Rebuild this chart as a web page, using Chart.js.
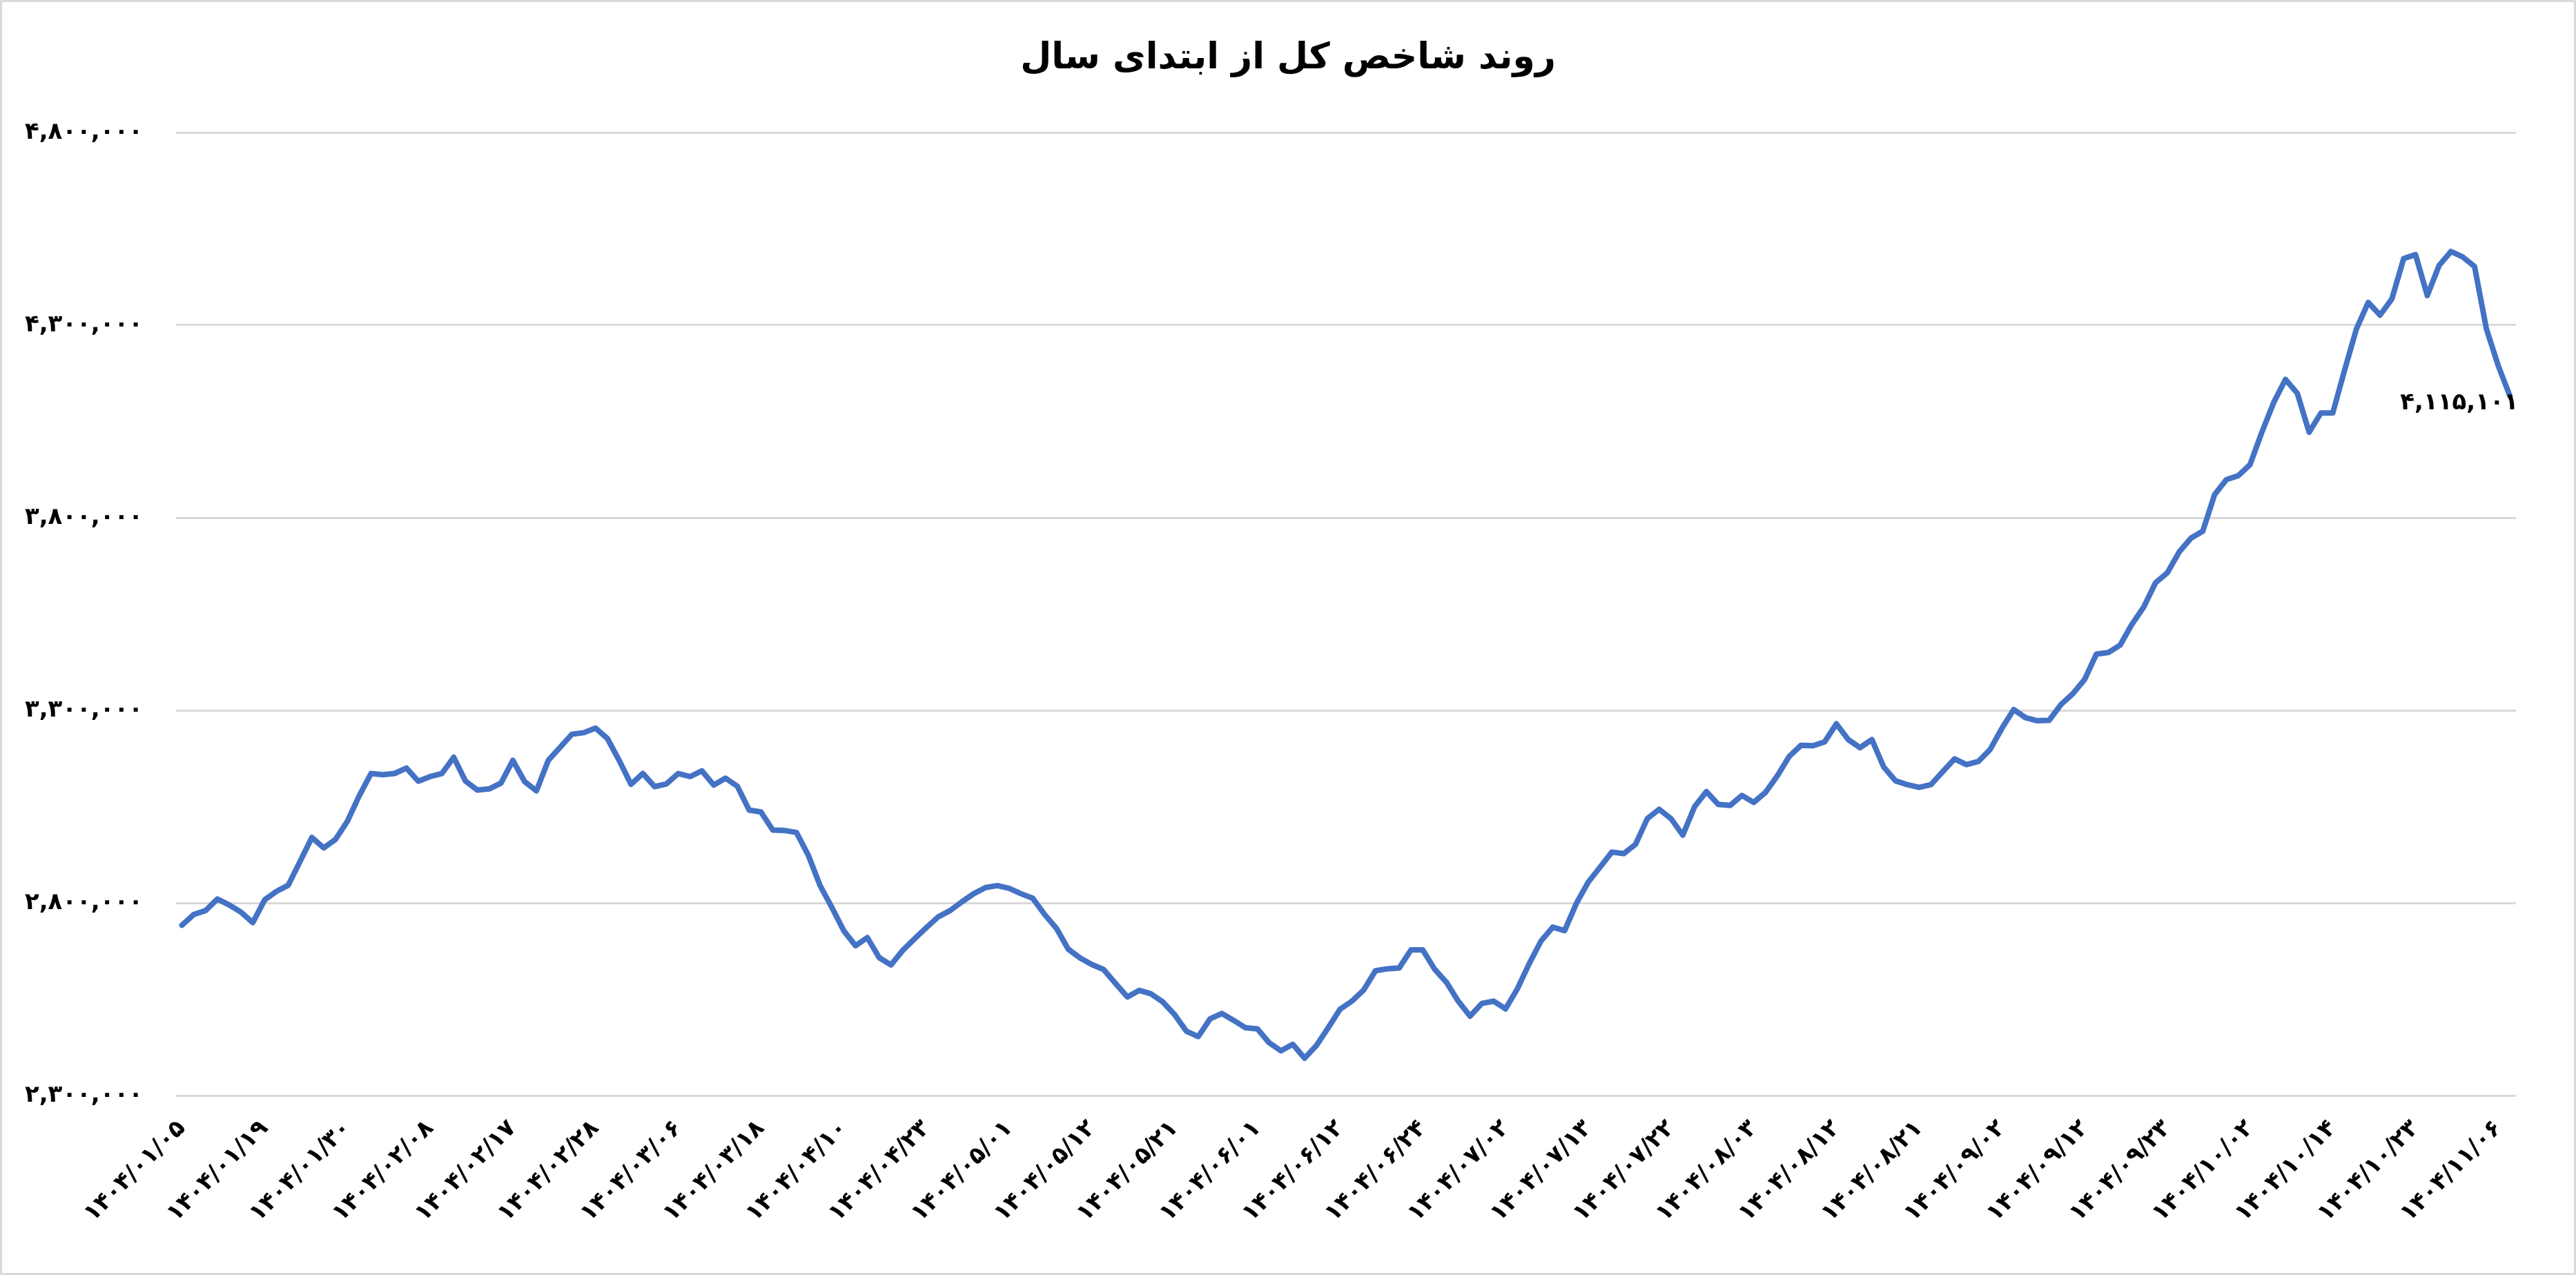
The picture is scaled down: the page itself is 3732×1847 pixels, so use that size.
<!DOCTYPE html>
<html><head><meta charset="utf-8">
<script src="https://cdn.jsdelivr.net/npm/chart.js@4.4.1/dist/chart.umd.min.js"></script>
<style>
html,body{margin:0;padding:0;background:#fff;}
#wrap{width:3732px;height:1847px;box-sizing:border-box;border:3px solid #d9d9d9;background:#fff;}
canvas{display:block;}
</style></head><body>
<div id="wrap"><canvas id="c" width="3726" height="1841"></canvas></div>
<script>
const chartTitle = 'روند شاخص کل از ابتدای سال';
const xTickLabels = ['1404/01/05','1404/01/19','1404/01/30','1404/02/08','1404/02/17','1404/02/28','1404/03/06','1404/03/18','1404/04/10','1404/04/23','1404/05/01','1404/05/12','1404/05/21','1404/06/01','1404/06/12','1404/06/24','1404/07/02','1404/07/13','1404/07/22','1404/08/03','1404/08/12','1404/08/21','1404/09/02','1404/09/12','1404/09/23','1404/10/02','1404/10/14','1404/10/23','1404/11/06'];
const tickEvery = 7;
const indexValues = [
2742000,2770000,2780000,2810000,2795000,2776000,2749000,2808000,2830000,2846000,
2908000,2970000,2943000,2965000,3012000,3078000,3136000,3133000,3136000,3150000,
3116000,3128000,3136000,3178000,3116000,3093000,3096000,3111000,3170000,3115000,
3091000,3170000,3204000,3238000,3242000,3254000,3227000,3170000,3108000,3136000,
3102000,3109000,3136000,3128000,3143000,3106000,3124000,3103000,3041000,3036000,
2989000,2988000,2983000,2924000,2845000,2788000,2728000,2689000,2710000,2658000,
2639000,2677000,2707000,2736000,2764000,2780000,2803000,2824000,2840000,2845000,
2838000,2824000,2812000,2770000,2734000,2680000,2657000,2640000,2627000,2591000,
2556000,2573000,2564000,2543000,2510000,2467000,2453000,2499000,2513000,2495000,
2476000,2473000,2437000,2416000,2433000,2397000,2430000,2476000,2524000,2545000,
2574000,2624000,2629000,2631000,2678000,2678000,2628000,2594000,2545000,2506000,
2539000,2545000,2525000,2577000,2642000,2701000,2737000,2728000,2799000,2854000,
2893000,2932000,2928000,2952000,3019000,3043000,3019000,2976000,3050000,3089000,
3056000,3053000,3079000,3061000,3087000,3130000,3180000,3209000,3208000,3218000,
3265000,3224000,3203000,3224000,3153000,3117000,3107000,3100000,3107000,3141000,
3174000,3159000,3167000,3198000,3253000,3302000,3281000,3273000,3274000,3315000,
3343000,3380000,3446000,3450000,3469000,3523000,3568000,3631000,3657000,3711000,
3747000,3765000,3860000,3899000,3909000,3938000,4022000,4099000,4159000,4123000,
4022000,4072000,4072000,4183000,4290000,4359000,4326000,4368000,4473000,4483000,
4377000,4455000,4491000,4477000,4452000,4290000,4195000,4115101];
const yMin = 2300000, yMax = 4800000, yStep = 500000;

const FA = '۰۱۲۳۴۵۶۷۸۹';
const toFa = s => String(s).replace(/[0-9]/g, d => FA[+d]);
const fmt = v => toFa(Math.round(v).toLocaleString('en-US'));
const FONT = '"DejaVu Sans", sans-serif';

const titleAndLabel = {
  id: 'titleAndLabel',
  afterDraw(chart) {
    const ctx = chart.ctx;
    ctx.save();
    ctx.font = 'bold 52px ' + FONT;
    ctx.fillStyle = '#000';
    ctx.textAlign = 'center';
    ctx.textBaseline = 'middle';
    ctx.fillText(chartTitle, chart.width / 2, 82);
    ctx.restore();
  },
  afterDatasetsDraw(chart) {
    const meta = chart.getDatasetMeta(0);
    const i = indexValues.length - 1;
    const pt = meta.data[i];
    const ctx = chart.ctx;
    ctx.save();
    ctx.font = 'bold 34px ' + FONT;
    ctx.fillStyle = '#000';
    ctx.textAlign = 'right';
    ctx.textBaseline = 'middle';
    ctx.fillText(fmt(indexValues[i]), pt.x + 12, pt.y + 10);
    ctx.restore();
  }
};

new Chart(document.getElementById('c'), {
  type: 'line',
  data: {
    labels: indexValues.map((_, i) => i),
    datasets: [{
      data: indexValues,
      borderColor: '#4472C4',
      borderWidth: 8,
      pointRadius: 0,
      tension: 0,
      borderJoinStyle: 'round',
      borderCapStyle: 'round',
      fill: false
    }]
  },
  options: {
    responsive: false,
    animation: false,
    devicePixelRatio: 1,
    layout: { padding: { left: 0, right: 84, top: 189, bottom: 0 } },
    plugins: {
      legend: { display: false },
      tooltip: { enabled: false },
      title: { display: false }
    },
    scales: {
      x: {
        type: 'category',
        offset: true,
        grid: { display: false },
        border: { display: false },
        ticks: {
          autoSkip: false,
          minRotation: 45,
          maxRotation: 45,
          padding: 20,
          color: '#000',
          font: { family: FONT, size: 34, weight: 'bold' },
          callback: (v, i) => (i % tickEvery === 0 && xTickLabels[i / tickEvery]) ? toFa(xTickLabels[i / tickEvery]) : ''
        },
        afterFit: s => { s.height = 1841 - 1584; }
      },
      y: {
        min: yMin,
        max: yMax,
        grid: { color: '#d9d9d9', lineWidth: 3, drawTicks: false },
        border: { display: false },
        ticks: {
          stepSize: yStep,
          padding: 48,
          color: '#000',
          font: { family: FONT, size: 34, weight: 'bold' },
          callback: v => fmt(v)
        },
        afterFit: s => { s.width = 252; }
      }
    }
  },
  plugins: [titleAndLabel]
});
</script>
</body></html>
